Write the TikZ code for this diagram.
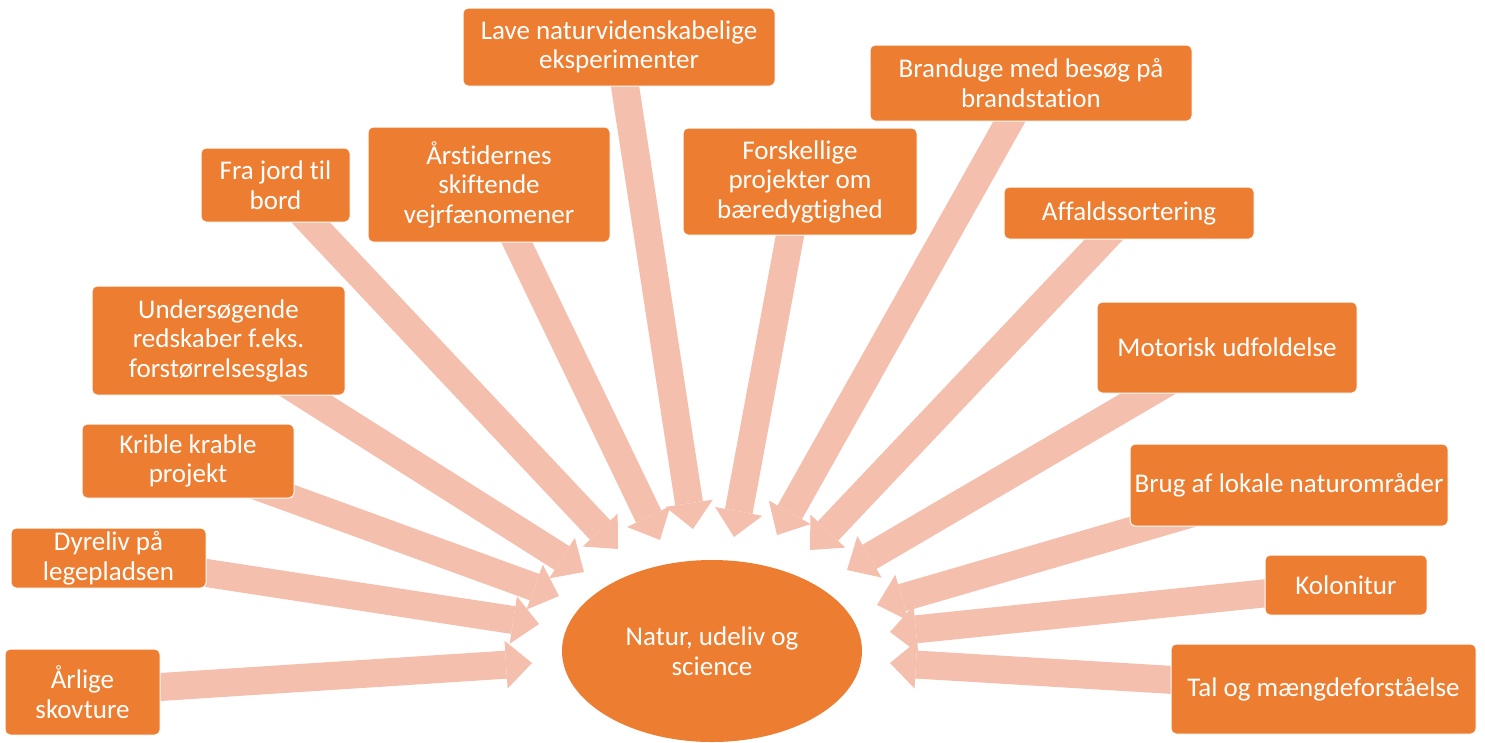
\documentclass[tikz,border=0pt]{standalone}
\usepackage{fontspec}
\setmainfont{Carlito}[Ligatures=NoCommon]
\usepackage{tikz}
\usetikzlibrary{shapes,arrows.meta,backgrounds}
\definecolor{boxorange}{HTML}{ED7D31}
\definecolor{arrowpink}{HTML}{F4BFAD}

\begin{document}
\begin{tikzpicture}[x=1pt,y=-1pt,
	emne/.style={rectangle,rounded corners=5pt,fill=boxorange,draw=white,line width=1pt,
		text=white,align=center,inner sep=0pt,font=\fontsize{27}{29.5}\selectfont},
	pil/.style={draw=arrowpink,line width=28pt,
		-{Triangle[length=26pt,width=48pt,line width=0pt]}}]
	
		\useasboundingbox (0,0) rectangle (1485,742);
		
		\node[ellipse,fill=boxorange,text=white,align=center,minimum width=300pt,minimum height=182pt,
			font=\fontsize{27}{29.5}\selectfont] (natur) at (712,651) {Natur, udeliv og\\science};
		
		\node[emne,minimum width=312pt,minimum height=78pt] (lave) at (619,47) {Lave naturvidenskabelige\\eksperimenter};
		\node[emne,minimum width=322pt,minimum height=76pt] (brand) at (1031,83) {Branduge med besøg på\\brandstation};
		\node[emne,minimum width=149pt,minimum height=74pt] (jord) at (275.5,185) {Fra jord til\\bord};
		\node[emne,minimum width=242pt,minimum height=115pt] (aarstid) at (489,184.5) {Årstidernes\\skiftende\\vejrfænomener};
		\node[emne,minimum width=234pt,minimum height=107pt] (forsk) at (800,181.5) {Forskellige\\projekter om\\bæredygtighed};
		\node[emne,minimum width=250pt,minimum height=52pt] (affald) at (1129,213) {Affaldssortering};
		\node[emne,minimum width=253pt,minimum height=109pt] (under) at (218.5,340.5) {Undersøgende\\redskaber f.eks.\\forstørrelsesglas};
		\node[emne,minimum width=260pt,minimum height=91pt] (motor) at (1227,347.5) {Motorisk udfoldelse};
		\node[emne,minimum width=212pt,minimum height=74pt] (krible) at (188,461) {Krible krable\\projekt};
		\node[emne,minimum width=318pt,minimum height=82pt] (brug) at (1289,485) {Brug af lokale naturområder};
		\node[emne,minimum width=195pt,minimum height=60pt] (dyr) at (108.5,558) {Dyreliv på\\legepladsen};
		\node[emne,minimum width=162pt,minimum height=60pt] (koloni) at (1346,585) {Kolonitur};
		\node[emne,minimum width=155pt,minimum height=86pt] (aarlig) at (82.5,692) {Årlige\\skovture};
		\node[emne,minimum width=305pt,minimum height=90pt] (tal) at (1323.5,689) {Tal og mængdeforståelse};
		
		% arrow tips round the ellipse
		\coordinate (tjord) at (618,549);
		\coordinate (taarstid) at (660,540);
		\coordinate (tlave) at (693,529);
		\coordinate (tforsk) at (734,537);
		\coordinate (tbrand) at (777,535);
		\coordinate (taffald) at (810,550);
		\coordinate (tmotor) at (847,570);
		\coordinate (tbrug) at (877,605);
		\coordinate (tkoloni) at (890,632);
		\coordinate (ttal) at (890,663);
		\coordinate (tunder) at (584,572);
		\coordinate (tkrible) at (559,596);
		\coordinate (tdyr) at (539,624);
		\coordinate (taarlig) at (532,663);
		
		\begin{pgfonlayer}{background}
			\draw[pil] (jord.center) -- (tjord);
			\draw[pil] (aarstid.center) -- (taarstid);
			\draw[pil] (lave.center) -- (tlave);
			\draw[pil] (forsk.center) -- (tforsk);
			\draw[pil] (brand.center) -- (tbrand);
			\draw[pil] (affald.center) -- (taffald);
			\draw[pil] (motor.center) -- (tmotor);
			\draw[pil] (brug.center) -- (tbrug);
			\draw[pil] (koloni.center) -- (tkoloni);
			\draw[pil] (tal.center) -- (ttal);
			\draw[pil] (under.center) -- (tunder);
			\draw[pil] (krible.center) -- (tkrible);
			\draw[pil] (dyr.center) -- (tdyr);
			\draw[pil] (aarlig.center) -- (taarlig);
		\end{pgfonlayer}
		
	\end{tikzpicture}
\end{document}
